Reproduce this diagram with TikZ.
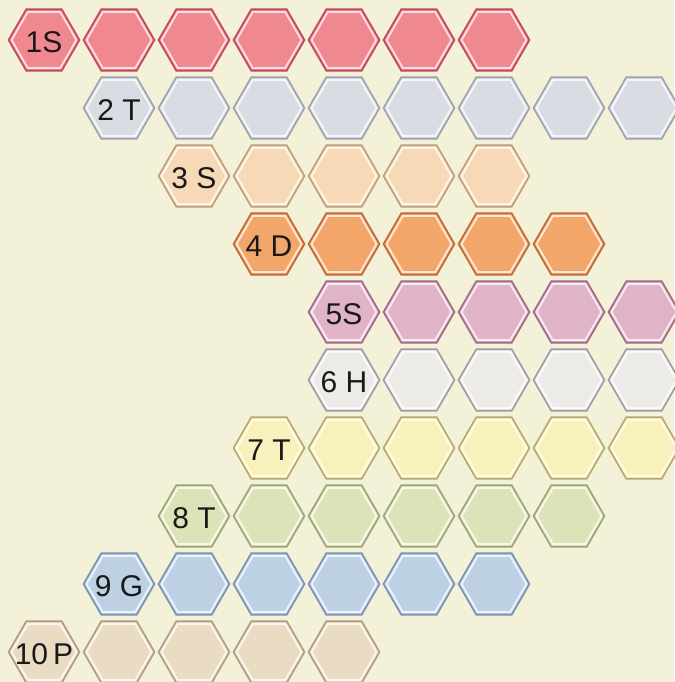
\documentclass[tikz,border=0pt]{standalone}
\usepackage{fontspec}
\setmainfont{Liberation Sans}
\usetikzlibrary{shapes.geometric}
\definecolor{paper}{HTML}{F3F2D8}
\definecolor{f1}{HTML}{F08890}\definecolor{d1}{HTML}{C2445E}
\definecolor{f2}{HTML}{D9DCE3}\definecolor{d2}{HTML}{9EA2AC}
\definecolor{f3}{HTML}{F6D9B6}\definecolor{d3}{HTML}{C29D7B}
\definecolor{f4}{HTML}{F3A66A}\definecolor{d4}{HTML}{BF6A38}
\definecolor{f5}{HTML}{E0B4C6}\definecolor{d5}{HTML}{A06886}
\definecolor{f6}{HTML}{EDEBE8}\definecolor{d6}{HTML}{A29AA2}
\definecolor{f7}{HTML}{F8F1BC}\definecolor{d7}{HTML}{B8A868}
\definecolor{f8}{HTML}{DCE3B8}\definecolor{d8}{HTML}{9CA476}
\definecolor{f9}{HTML}{BDD0E4}\definecolor{d9}{HTML}{7892B2}
\definecolor{f10}{HTML}{EADBC3}\definecolor{d10}{HTML}{B09C82}
\tikzstyle{hex} = [regular polygon, regular polygon sides=6, minimum size=71pt, inner sep=0pt, line width=1.6pt]
\tikzstyle{tag} = [inner sep=0pt, font=\fontsize{30}{30}\selectfont, text=black!90]

\begin{document}
\begin{tikzpicture}[x=1pt, y=1pt]
    \fill[paper] (0,0) rectangle (674,-682);
    \useasboundingbox (0,0) rectangle (674,-682);
    \foreach \r/\s/\e/\t in {1/0/6/1S, 2/1/8/2 T, 3/2/6/3 S, 4/3/7/4 D, 5/4/8/5S,
        6/4/8/6 H, 7/3/8/7 T, 8/2/7/8 T, 9/1/6/9 G, 10/0/4/10\,P} {
        \foreach \c in {\s,...,\e} {
            \node[hex, fill=f\r, draw=d\r] (h\r-\c) at (44+75*\c, 28-68*\r) {};
            \draw[line width=1.8pt, f\r!25!white, line join=round]
                (h\r-\c.center) ++(0:32.4pt) -- ++(120:32.4pt) -- ++(180:32.4pt)
                -- ++(240:32.4pt) -- ++(300:32.4pt) -- ++(0:32.4pt) -- cycle;
        }
        \node[tag] (t\r) at ([yshift=-2pt]h\r-\s) {\t};
    }
\end{tikzpicture}
\end{document}
